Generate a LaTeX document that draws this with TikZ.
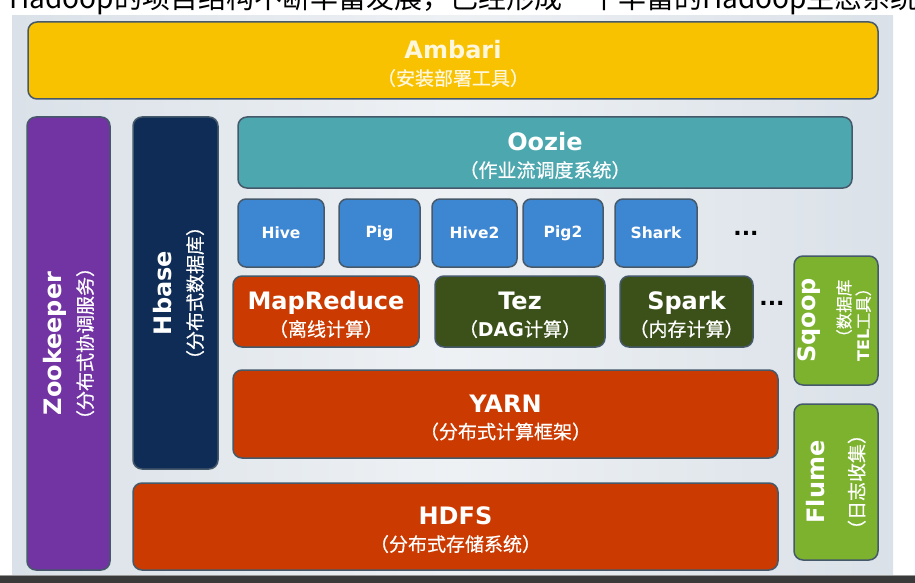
\documentclass[tikz,border=0pt]{standalone}
\usepackage{fontspec}
\newfontfamily\dejavu{DejaVu Sans}
\newfontfamily\cjk{Noto Sans CJK SC}
\newfontfamily\cjksub{Noto Sans CJK SC}[FakeBold=0.5]
\usetikzlibrary{positioning}
\definecolor{Edge}{HTML}{45596A}
\definecolor{PanelMid}{HTML}{EEF1F4}
\definecolor{PanelSide}{HTML}{DAE1E8}
\definecolor{AmbariGold}{HTML}{F8C200}
\definecolor{ZooPurple}{HTML}{7233A3}
\definecolor{HbaseNavy}{HTML}{0F2C56}
\definecolor{OozieTeal}{HTML}{4CA7AF}
\definecolor{QueryBlue}{HTML}{3D86D1}
\definecolor{CoreRed}{HTML}{CB3A00}
\definecolor{EngineGreen}{HTML}{3B5119}
\definecolor{IngestGreen}{HTML}{7CB22E}
\definecolor{Cream}{HTML}{FFF7DC}
\definecolor{BarGray}{HTML}{3A3A3A}
\newcommand\sidetitle{\dejavu\bfseries\fontsize{24}{27}\selectfont}
\newcommand\layertitle{\sidetitle\rule{0pt}{25pt}}
\newcommand\layersub{\cjksub\fontsize{19}{26.4}\selectfont}
\newcommand\layermini{\cjksub\fontsize{16.5}{17}\selectfont}
\tikzset{
  layer/.style={
    rounded corners=9pt, draw=Edge, line width=1.5pt, text=white,
    align=center, inner sep=2pt, font=\layersub
  },
  tool/.style={
    layer, fill=QueryBlue, minimum height=68, rounded corners=8pt,
    font=\dejavu\bfseries\fontsize{15.5}{18}\selectfont
  },
  engine/.style={layer, minimum height=71},
  sidebar/.style={layer, rotate=90},
  more/.style={inner sep=0pt, font=\dejavu\bfseries\fontsize{22}{22}\selectfont}
}
\begin{document}
\begin{tikzpicture}[x=1pt,y=-1pt]
  \useasboundingbox (0,0) rectangle (915,583);
  % backdrop
  \shade[left color=PanelSide, right color=PanelSide, middle color=PanelMid]
    (12,16) rectangle (893,575);
  \fill[BarGray] (0,575) rectangle (915,583);
  \draw[gray!80, line width=1pt] (0,575.5) -- (915,575.5);
  % cut-off heading
  \begin{scope}
    \clip (0,0) rectangle (915,16);
    \node[anchor=base west, inner sep=0pt, font=\cjk\fontsize{28}{28}\selectfont]
      (headline) at (9,9) {Hadoop的项目结构不断丰富发展，已经形成一个丰富的Hadoop生态系统};
  \end{scope}
  % top and side bars
  \node[layer, fill=AmbariGold, text=Cream, minimum width=850, minimum height=77]
    (ambari) at (453,60.5) {{\layertitle Ambari}\\（安装部署工具）};
  \node[sidebar, fill=ZooPurple, minimum width=453, minimum height=83]
    (zookeeper) at (68.5,343.5) {{\sidetitle Zookeeper}\\[5pt]（分布式协调服务）};
  \node[sidebar, fill=HbaseNavy, minimum width=352, minimum height=85]
    (hbase) at (175.5,293) {{\layertitle Hbase}\\[4pt]（分布式数据库）};
  \node[layer, fill=OozieTeal, minimum width=614, minimum height=71]
    (oozie) at (545,152.5) {{\layertitle Oozie}\\（作业流调度系统）};
  % query tools
  \node[tool, minimum width=86] (hive) at (281,233) {Hive};
  \node[tool, minimum width=81] (pig) at (379.5,233) {Pig};
  \node[tool, minimum width=85] (hive2) at (474.5,233) {Hive2};
  \node[tool, minimum width=80] (pig2) at (563,233) {Pig2};
  \node[tool, minimum width=82] (shark) at (656,233) {Shark};
  \node[more] (moretools) at (746,233) {...};
  % engines
  \node[engine, fill=CoreRed, minimum width=186]
    (mapreduce) at (326,311.5) {{\layertitle MapReduce}\\（离线计算）};
  \node[engine, fill=EngineGreen, minimum width=170]
    (tez) at (520,311.5) {{\layertitle Tez}\\（{\dejavu\bfseries DAG}计算）};
  \node[engine, fill=EngineGreen, minimum width=133]
    (spark) at (686.5,311.5) {{\layertitle Spark}\\（内存计算）};
  \node[more] (moreengines) at (772,303) {...};
  % data ingest
  \node[sidebar, fill=IngestGreen, minimum width=129, minimum height=84, font=\layermini]
    (sqoop) at (836,320.5)
    {{\sidetitle Sqoop}\\[15pt]\begin{tabular}{@{}r@{}}
      \layermini （数据库\\
      {\dejavu\bfseries\fontsize{16}{17}\selectfont TEL}\layermini 工具）
    \end{tabular}};
  \node[sidebar, fill=IngestGreen, minimum width=156, minimum height=84]
    (flume) at (836,482) {{\sidetitle Flume}\\[13pt]（日志收集）};
  % resource and storage
  \node[layer, fill=CoreRed, minimum width=545, minimum height=88]
    (yarn) at (505.5,414) {{\layertitle YARN}\\（分布式计算框架）};
  \node[layer, fill=CoreRed, minimum width=645, minimum height=87]
    (hdfs) at (455.5,526.5) {{\layertitle HDFS}\\（分布式存储系统）};
\end{tikzpicture}
\end{document}
